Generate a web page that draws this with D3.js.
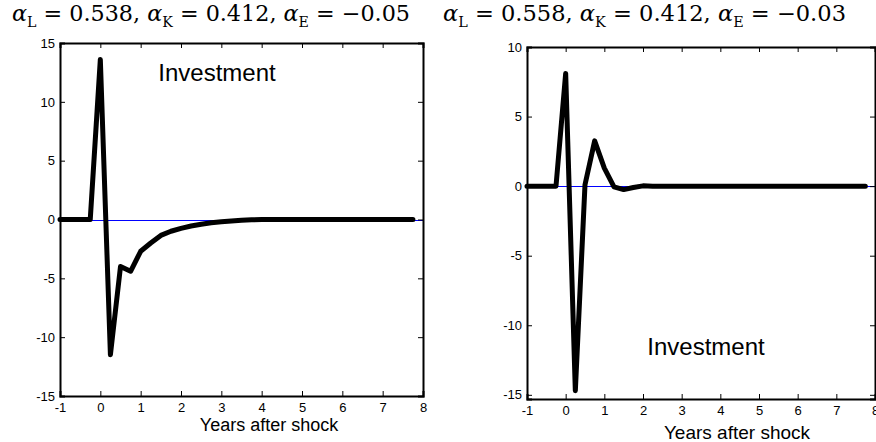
<!DOCTYPE html>
<html>
<head>
<meta charset="utf-8">
<script src="https://cdn.jsdelivr.net/npm/d3@7"></script>
<style>
  html, body { margin: 0; padding: 0; background: #fff; }
  svg { display: block; }
</style>
</head>
<body>
<svg id="chart" width="876" height="442"></svg>
<script>
// quarterly horizon (years after shock)
const years = [-1, -0.75, -0.5, -0.25, 0, 0.25, 0.5, 0.75, 1, 1.25, 1.5, 1.75, 2, 2.25, 2.5, 2.75,
    3, 3.25, 3.5, 3.75, 4, 4.25, 4.5, 4.75, 5, 5.25, 5.5, 5.75, 6, 6.25, 6.5, 6.75, 7, 7.25, 7.5, 7.75];

// investment response, left panel (alpha_E = -0.05)
const investLeft = [0, 0, 0, 0, 13.6, -11.5, -4.0, -4.4, -2.7, -2.0, -1.35, -1.0, -0.75, -0.55, -0.4, -0.28,
    -0.2, -0.12, -0.06, -0.02, 0, 0, 0, 0, 0, 0, 0, 0, 0, 0, 0, 0, 0, 0, 0, 0];

// investment response, right panel (alpha_E = -0.03)
const investRight = [0, 0, 0, 0, 8.1, -14.7, 0.1, 3.25, 1.3, -0.05, -0.25, -0.1, 0.02, 0, 0, 0,
    0, 0, 0, 0, 0, 0, 0, 0, 0, 0, 0, 0, 0, 0, 0, 0, 0, 0, 0, 0];

const xTicks = [-1, 0, 1, 2, 3, 4, 5, 6, 7, 8];
const yTicksLeft = [-15, -10, -5, 0, 5, 10, 15];
const yTicksRight = [-15, -10, -5, 0, 5, 10];

const titles = [
    { a: [["L", "0.538"], ["K", "0.412"], ["E", "\u22120.05"]] },
    { a: [["L", "0.558"], ["K", "0.412"], ["E", "\u22120.03"]] }
];

const svg = d3.select("#chart");
const sans = "'Liberation Sans', Arial, sans-serif";
const fmt = d => String(d); // plain hyphen minus like the original

function drawPanel(opt) {
    const x = d3.scaleLinear().domain([-1, 8]).range([opt.left, opt.right]);
    const y = d3.scaleLinear().domain(opt.yDomain).range([opt.bottom, opt.top]);
    const g = svg.append("g");

    // zero line, snapped to a pixel row so it stays blue
    const y0 = Math.round(y(0)) + 0.5;
    g.append("line")
        .attr("x1", x(-1)).attr("x2", x(8))
        .attr("y1", y0).attr("y2", y0)
        .attr("stroke", "#0000ff").attr("stroke-width", 1);

    // series
    const line = d3.line().x((d, i) => x(years[i])).y(d => y(d));
    g.append("path")
        .datum(opt.values)
        .attr("d", line)
        .attr("fill", "none")
        .attr("stroke", "#000")
        .attr("stroke-width", 5)
        .attr("stroke-linejoin", "round")
        .attr("stroke-linecap", "round");

    // axes with inward ticks
    const tk = 5;
    g.append("g").attr("transform", `translate(0,${opt.bottom})`)
        .call(d3.axisBottom(x).tickValues(xTicks).tickSize(-tk).tickPadding(7).tickFormat(fmt));
    g.append("g").attr("transform", `translate(0,${opt.top})`)
        .call(d3.axisTop(x).tickValues(xTicks).tickSize(-tk).tickFormat(""));
    g.append("g").attr("transform", `translate(${opt.left},0)`)
        .call(d3.axisLeft(y).tickValues(opt.yTicks).tickSize(-tk).tickPadding(5).tickFormat(fmt));
    g.append("g").attr("transform", `translate(${opt.right},0)`)
        .call(d3.axisRight(y).tickValues(opt.yTicks).tickSize(-tk).tickFormat(""));

    g.selectAll(".domain").attr("stroke", "#000").attr("stroke-width", 2);
    g.selectAll(".tick line").attr("stroke", "#000").attr("stroke-width", 1);
    g.selectAll(".tick text")
        .style("font-family", sans)
        .style("font-size", "13px")
        .attr("fill", "#000");

    // panel label
    g.append("text")
        .attr("x", opt.labelX).attr("y", opt.labelY)
        .attr("text-anchor", "middle")
        .style("font-family", sans)
        .style("font-size", "24px")
        .text("Investment");

    // x axis title
    g.append("text")
        .attr("x", opt.xtX).attr("y", opt.xtY)
        .attr("text-anchor", "middle")
        .style("font-family", sans)
        .style("font-size", opt.xtSize + "px")
        .text("Years after shock");

    // formula title
    const t = svg.append("text")
        .attr("x", opt.titleX).attr("y", 21)
        .style("font-family", "'DejaVu Serif', 'Liberation Serif', serif")
        .style("font-size", "22px");
    opt.title.a.forEach((p, i) => {
        t.append("tspan").style("font-style", "italic").text("\u03b1");
        t.append("tspan").attr("dy", 6).style("font-size", "14px").text(p[0]);
        t.append("tspan").attr("dy", -6).text(" = " + p[1] + (i < 2 ? ", " : ""));
    });
    t.attr("textLength", opt.titleW).attr("lengthAdjust", "spacingAndGlyphs");
}

drawPanel({
    left: 60, right: 423, top: 43, bottom: 396,
    yDomain: [-15, 15], yTicks: yTicksLeft, values: investLeft,
    labelX: 217, labelY: 81, xtX: 269, xtY: 431, xtSize: 18,
    titleX: 12, titleW: 398, title: titles[0]
});

drawPanel({
    left: 527, right: 875, top: 47, bottom: 399,
    yDomain: [-15.3, 10], yTicks: yTicksRight, values: investRight,
    labelX: 706, labelY: 355, xtX: 737, xtY: 439, xtSize: 19,
    titleX: 443, titleW: 403, title: titles[1]
});
</script>
</body>
</html>
